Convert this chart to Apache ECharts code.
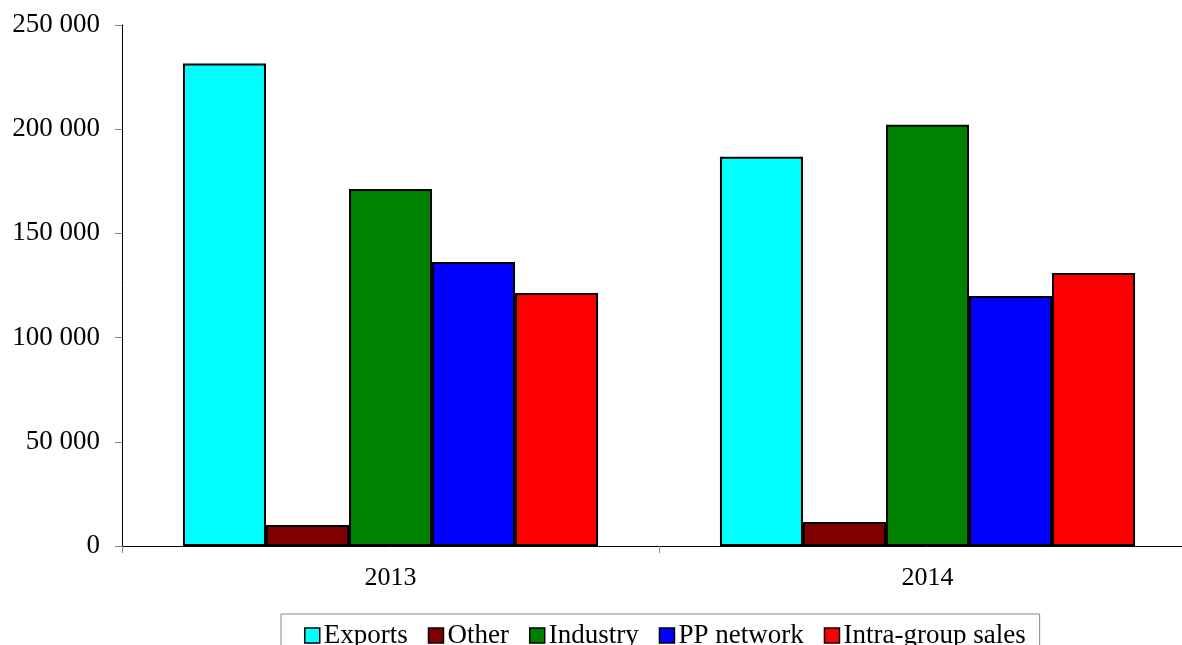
<!DOCTYPE html>
<html><head><meta charset="utf-8">
<script src="https://cdn.jsdelivr.net/npm/echarts@6/dist/echarts.min.js"></script>
<style>html,body{margin:0;padding:0;background:#fff;overflow:hidden;width:1182px;height:645px}#c{width:1196px;height:645px}</style>
</head><body><div id="c"></div>
<script>
const categories = ['2013', '2014'];
const exportsVals = [231500, 186800];
const otherVals = [10100, 11500];
const industryVals = [171300, 202100];
const ppNetworkVals = [136300, 120000];
const intraGroupVals = [121400, 131000];
const seriesNames = ['Exports', 'Other', 'Industry', 'PP network', 'Intra-group sales'];
const seriesColors = ['#00FFFF', '#800000', '#008000', '#0000FF', '#FF0000'];
const seriesData = [exportsVals, otherVals, industryVals, ppNetworkVals, intraGroupVals];

const font = 'Liberation Serif, Times New Roman, serif';
const chart = echarts.init(document.getElementById('c'));
chart.setOption({
  animation: false,
  textStyle: {fontFamily: font},
  grid: {left: 122, top: 25, bottom: 99, right: 0, containLabel: false},
  legend: {
    top: 614, left: 281,
    data: seriesNames,
    icon: 'rect', itemWidth: 15, itemHeight: 15, itemGap: 20,
    borderColor: '#888', borderWidth: 1, padding: [8, 14, 12, 23],
    textStyle: {fontFamily: font, fontSize: 27, color: '#000', padding: [0, 0, 0, -1]},
    itemStyle: {borderColor: '#000', borderWidth: 1.5}
  },
  xAxis: {
    type: 'category', data: categories,
    axisLine: {lineStyle: {color: '#000', width: 1}},
    axisTick: {show: true, length: 7, lineStyle: {color: '#888'}},
    axisLabel: {fontFamily: font, fontSize: 26, color: '#000', margin: 19}
  },
  yAxis: {
    type: 'value', min: 0, max: 250000, interval: 50000,
    splitLine: {show: false},
    axisLine: {show: true, lineStyle: {color: '#000', width: 1}},
    axisTick: {show: true, length: 7, lineStyle: {color: '#888'}},
    axisLabel: {fontFamily: font, fontSize: 27, color: '#000', margin: 22,
      formatter: v => String(v).replace(/\B(?=(\d{3})+(?!\d))/g, ' ')}
  },
  series: seriesNames.map((n, i) => ({
    name: n, type: 'bar', data: seriesData[i],
    barGap: '0%', barCategoryGap: '22.7%',
    itemStyle: {color: seriesColors[i], borderColor: '#000', borderWidth: 2}
  }))
});
</script></body></html>
